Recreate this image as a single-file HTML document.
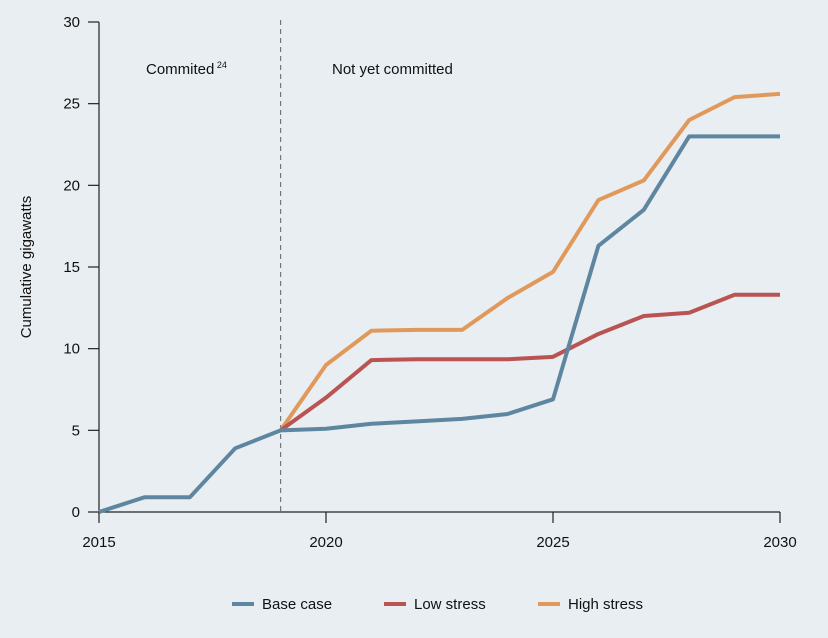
<!DOCTYPE html>
<html><head><meta charset="utf-8"><style>
html,body{margin:0;padding:0;background:#e8eef2;}
svg{display:block;font-family:"Liberation Sans",sans-serif;}
</style></head><body>
<svg id="chart" width="828" height="638">
<rect width="828" height="638" fill="#e8eef2"/>
<g id="axes"></g><g id="lines"></g>
</svg>
<script>
const years = [2015,2016,2017,2018,2019,2020,2021,2022,2023,2024,2025,2026,2027,2028,2029,2030];
const baseCase = [0,0.9,0.9,3.9,5.0,5.1,5.4,5.55,5.7,6.0,6.9,16.3,18.5,23.0,23.0,23.0];
const lowYears = [2019,2020,2021,2022,2023,2024,2025,2026,2027,2028,2029,2030];
const lowStress = [5.0,7.0,9.3,9.35,9.35,9.35,9.5,10.9,12.0,12.2,13.3,13.3];
const highStress = [5.0,9.0,11.1,11.15,11.15,13.1,14.7,19.1,20.3,24.0,25.4,25.6];
const yTicks = [0,5,10,15,20,25,30];
const xTicks = [2015,2020,2025,2030];
const NS='http://www.w3.org/2000/svg';
const x = v => 99 + (v-2015)*(780-99)/15;
const y = v => 512 - v*(512-22)/30;
const axes=document.getElementById('axes'), lines=document.getElementById('lines');
function mk(tag, attrs, parent){const e=document.createElementNS(NS,tag);for(const k in attrs)e.setAttribute(k,attrs[k]);parent.appendChild(e);return e;}
let e=mk('line',{x1:99,y1:22,x2:99,y2:512,stroke:'#222','stroke-width':1.2},axes);


e=mk('line',{x1:99,y1:512,x2:780,y2:512,stroke:'#222','stroke-width':1.2},axes);


yTicks.forEach(t=>{
  const l=mk('line',{x1:88,x2:99,y1:y(t),y2:y(t),stroke:'#222','stroke-width':1.2},axes);
  
  
  const tx=mk('text',{x:80,y:y(t)+5,'text-anchor':'end','font-size':15,fill:'#111'},axes);
  tx.textContent=t;
  
  
});
xTicks.forEach(t=>{
  const l=mk('line',{x1:x(t),x2:x(t),y1:512,y2:523,stroke:'#222','stroke-width':1.2},axes);
  
  
  const tx=mk('text',{x:x(t),y:547,'text-anchor':'middle','font-size':15,fill:'#111'},axes);
  tx.textContent=t;
  
  
});
e=mk('line',{x1:x(2019),x2:x(2019),y1:20,y2:512,stroke:'#777','stroke-width':1.2,'stroke-dasharray':'5,4'},axes);


e=mk('text',{x:146,y:74,'font-size':15,fill:'#111'},axes);
e.innerHTML='Commited<tspan font-size="9" dy="-6"> 24</tspan>';


e=mk('text',{x:332,y:74,'font-size':15,fill:'#111'},axes);
e.textContent='Not yet committed';


e=mk('text',{x:0,y:0,'font-size':15,fill:'#111','text-anchor':'middle',transform:'translate(31,267) rotate(-90)'},axes);
e.textContent='Cumulative gigawatts';


function series(xs,vs,color,name){
  const p=mk('polyline',{points:xs.map((v,i)=>x(v)+','+y(vs[i])).join(' '),fill:'none',stroke:color,'stroke-width':4,'stroke-linejoin':'round'},lines);
  
  
}
series(lowYears,highStress,'#e0995b','high-stress-line');
series(lowYears,lowStress,'#b95452','low-stress-line');
series(years,baseCase,'#5e86a1','base-case-line');
const legend=[['Base case','#5e86a1',232],['Low stress','#b95452',384],['High stress','#e0995b',538]];
legend.forEach(([n,c,lx])=>{
  const g=mk('g',{},axes);
  
  
  mk('line',{x1:lx,x2:lx+22,y1:604,y2:604,stroke:c,'stroke-width':4},g);
  const t=mk('text',{x:lx+30,y:609,'font-size':15,fill:'#111'},g);
  t.textContent=n;
});
</script>
</body></html>
